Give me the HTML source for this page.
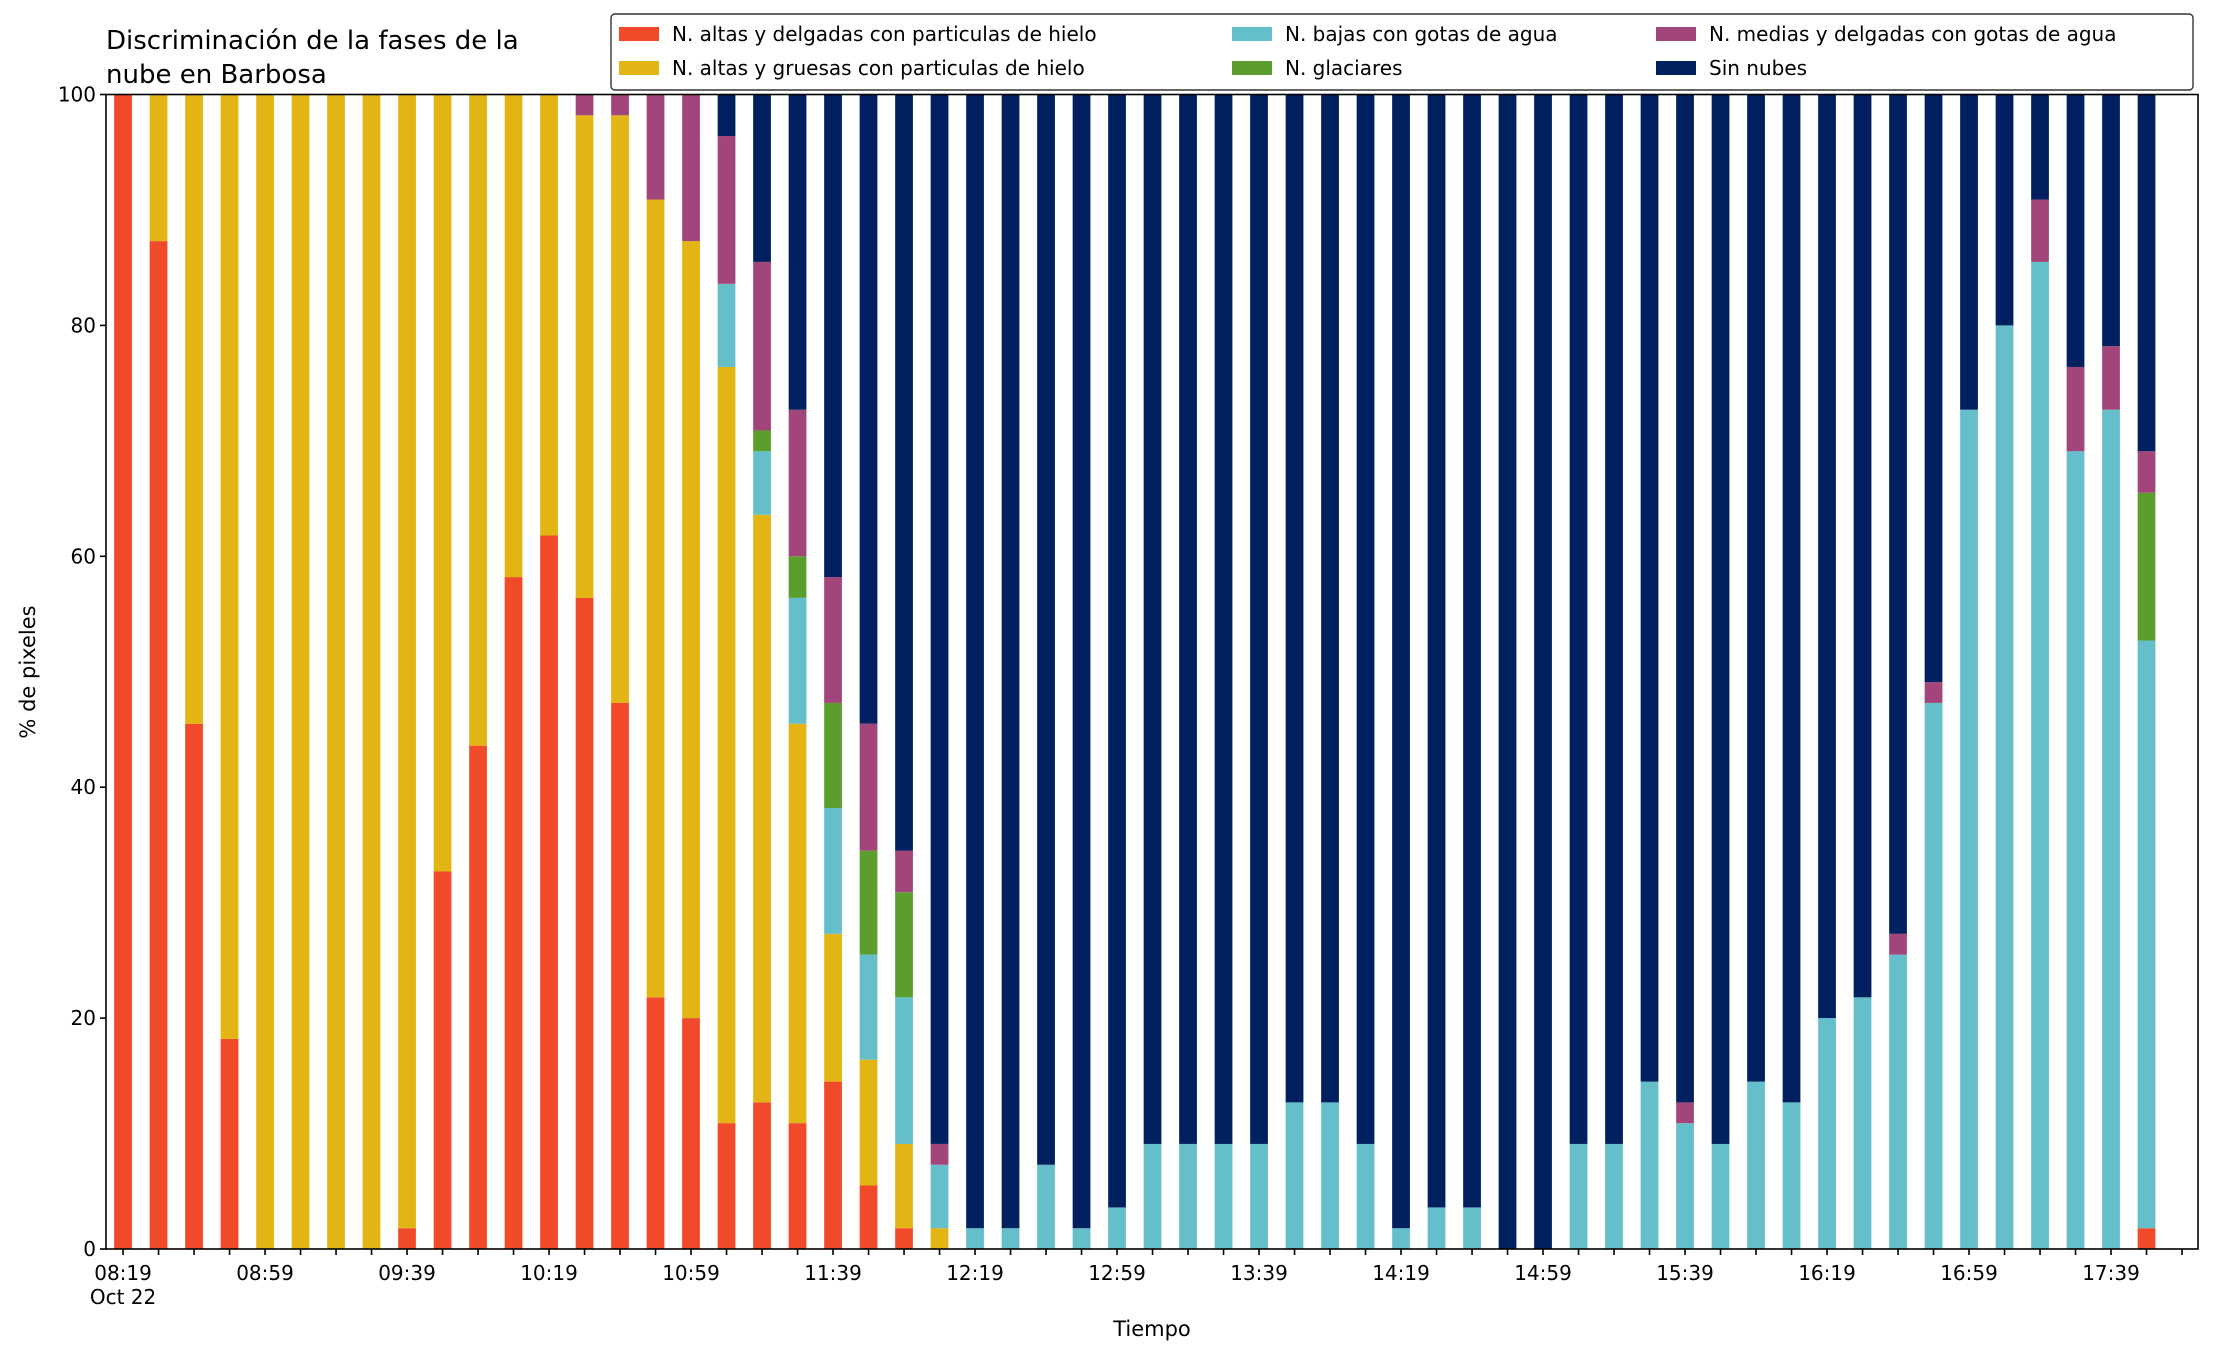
<!DOCTYPE html>
<html><head><meta charset="utf-8">
<style>
html,body{margin:0;padding:0;background:#fff;}
svg{display:block;font-family:"DejaVu Sans","Liberation Sans",sans-serif;}
</style></head>
<body>
<svg id="chart" width="2216" height="1355" viewBox="0 0 2216 1355" xmlns="http://www.w3.org/2000/svg">
<text x="106" y="49" font-size="26" fill="#000">Discriminación de la fases de la</text>
<text x="106" y="83" font-size="26" fill="#000">nube en Barbosa</text>
<text x="1152" y="1336" font-size="21" text-anchor="middle">Tiempo</text>
<text transform="translate(35,672) rotate(-90)" font-size="21" text-anchor="middle">% de pixeles</text>
<g id="bars"></g>
<g id="axes"></g>
<g id="legend"></g>
</svg>
<script>
const times = ["08:19","08:29","08:39","08:49","08:59","09:09","09:19","09:29","09:39","09:49","09:59","10:09","10:19","10:29","10:39","10:49","10:59","11:09","11:19","11:29","11:39","11:49","11:59","12:09","12:19","12:29","12:39","12:49","12:59","13:09","13:19","13:29","13:39","13:49","13:59","14:09","14:19","14:29","14:39","14:49","14:59","15:09","15:19","15:29","15:39","15:49","15:59","16:09","16:19","16:29","16:39","16:49","16:59","17:09","17:19","17:29","17:39","17:49"];
const seriesNames = ["N. altas y delgadas con particulas de hielo","N. altas y gruesas con particulas de hielo","N. bajas con gotas de agua","N. glaciares","N. medias y delgadas con gotas de agua","Sin nubes"];
const redAltasDelgadas = [100,87.3,45.5,18.2,0,0,0,0,1.8,32.7,43.6,58.2,61.8,56.4,47.3,21.8,20,10.9,12.7,10.9,14.5,5.5,1.8,0,0,0,0,0,0,0,0,0,0,0,0,0,0,0,0,0,0,0,0,0,0,0,0,0,0,0,0,0,0,0,0,0,0,1.8];
const yellowAltasGruesas = [0,12.7,54.5,81.8,100,100,100,100,98.2,67.3,56.4,41.8,38.2,41.8,50.9,69.1,67.3,65.5,50.9,34.6,12.8,10.9,7.3,1.8,0,0,0,0,0,0,0,0,0,0,0,0,0,0,0,0,0,0,0,0,0,0,0,0,0,0,0,0,0,0,0,0,0,0];
const cyanBajasAgua = [0,0,0,0,0,0,0,0,0,0,0,0,0,0,0,0,0,7.2,5.5,10.9,10.9,9.1,12.7,5.5,1.8,1.8,7.3,1.8,3.6,9.1,9.1,9.1,9.1,12.7,12.7,9.1,1.8,3.6,3.6,0,0,9.1,9.1,14.5,10.9,9.1,14.5,12.7,20,21.8,25.5,47.3,72.7,80,85.5,69.1,72.7,50.9];
const greenGlaciares = [0,0,0,0,0,0,0,0,0,0,0,0,0,0,0,0,0,0,1.8,3.6,9.1,9,9.1,0,0,0,0,0,0,0,0,0,0,0,0,0,0,0,0,0,0,0,0,0,0,0,0,0,0,0,0,0,0,0,0,0,0,12.8];
const purpleMediasAgua = [0,0,0,0,0,0,0,0,0,0,0,0,0,1.8,1.8,9.1,12.7,12.8,14.6,12.7,10.9,11,3.6,1.8,0,0,0,0,0,0,0,0,0,0,0,0,0,0,0,0,0,0,0,0,1.8,0,0,0,0,0,1.8,1.8,0,0,5.4,7.3,5.5,3.6];
const navySinNubes = [0,0,0,0,0,0,0,0,0,0,0,0,0,0,0,0,0,3.6,14.5,27.3,41.8,54.5,65.5,90.9,98.2,98.2,92.7,98.2,96.4,90.9,90.9,90.9,90.9,87.3,87.3,90.9,98.2,96.4,96.4,100,100,90.9,90.9,85.5,87.3,90.9,85.5,87.3,80,78.2,72.7,50.9,27.3,20,9.1,23.6,21.8,30.9];
const yTicks = [0,20,40,60,80,100];
const colors = ["#F04A2B","#E3B514","#64BFCA","#5C9E2D","#A2457B","#00205F"];
const series = [redAltasDelgadas,yellowAltasGruesas,cyanBajasAgua,greenGlaciares,purpleMediasAgua,navySinNubes];

const NS="http://www.w3.org/2000/svg";
const L=106,R=2198,T=94.5,B=1249;
const xmin=-0.48,xmax=58.45;
function xs(i){return L+(i-xmin)/(xmax-xmin)*(R-L);}
function ys(v){return B-v/100*(B-T);}
const bw=(xs(1)-xs(0))*0.5;
function mk(tag,attrs,parent){const e=document.createElementNS(NS,tag);for(const k in attrs)e.setAttribute(k,attrs[k]);parent.appendChild(e);return e;}
const barsG=document.getElementById('bars');
for(let i=0;i<times.length;i++){
  let cum=0;
  for(let s=0;s<series.length;s++){
    const v=series[s][i]; if(!v) continue;
    const r=mk('rect',{x:xs(i)-bw/2,y:ys(Math.min(100,cum+v)),width:bw,height:ys(cum)-ys(Math.min(100,cum+v)),fill:colors[s]},barsG);
    
    
    cum+=v;
  }
}
const ax=document.getElementById('axes');
const frame=mk('rect',{x:L,y:T,width:R-L,height:B-T,fill:'none',stroke:'#000','stroke-width':1.6},ax);


yTicks.forEach(t=>{
  mk('line',{x1:L-6,x2:L,y1:ys(t),y2:ys(t),stroke:'#000','stroke-width':1.6},ax);
  const tx=mk('text',{x:L-10,y:ys(t)+7,'font-size':20,'text-anchor':'end'},ax);
  tx.textContent=t;
  
  
});
for(let i=0;i<=58;i++){
  mk('line',{x1:xs(i),x2:xs(i),y1:B,y2:B+6,stroke:'#000','stroke-width':1.6},ax);
  if(i%4===0 && i<times.length){
    const tx=mk('text',{x:xs(i),y:B+31,'font-size':20,'text-anchor':'middle'},ax);
    tx.textContent=times[i];
    
    
  }
}
const oct=mk('text',{x:xs(0),y:B+55,'font-size':20,'text-anchor':'middle'},ax);
oct.textContent="Oct 22";



const lg=document.getElementById('legend');
mk('rect',{x:611,y:14,width:1582,height:76,rx:4,fill:'#fff',stroke:'#333','stroke-width':1.4,'fill-opacity':0.9},lg);
const colX=[619,1232,1656],rowY=[34,68];
for(let s=0;s<seriesNames.length;s++){
  const c=Math.floor(s/2),r=s%2;
  const sw=mk('rect',{x:colX[c],y:rowY[r]-7,width:40,height:14,fill:colors[s]},lg);
  
  
  const tx=mk('text',{x:colX[c]+53,y:rowY[r]+7,'font-size':20},lg);
  tx.textContent=seriesNames[s];
  
  
}
</script>
</body></html>
